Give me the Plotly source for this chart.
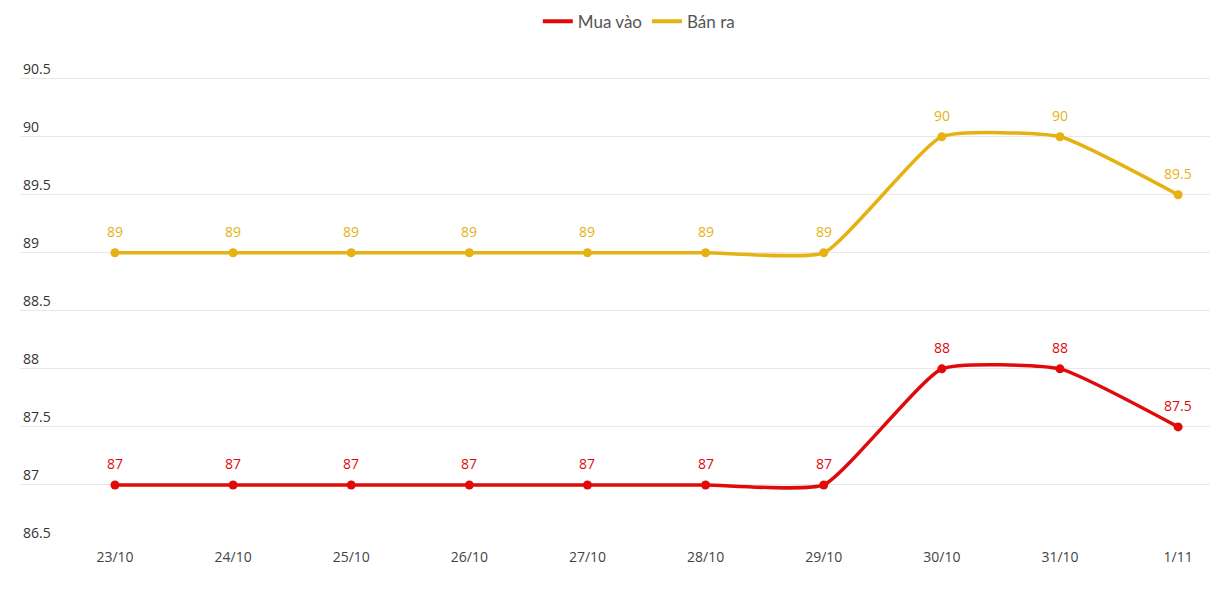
import plotly.graph_objects as go

dates = ["23/10", "24/10", "25/10", "26/10", "27/10", "28/10", "29/10", "30/10", "31/10", "1/11"]
mua_vao = [87, 87, 87, 87, 87, 87, 87, 88, 88, 87.5]
ban_ra = [89, 89, 89, 89, 89, 89, 89, 90, 90, 89.5]
y_ticks = [86.5, 87, 87.5, 88, 88.5, 89, 89.5, 90, 90.5]

RED = "#e10a0a"
GOLD = "#e6b213"
series = [("Mua vào", mua_vao, RED), ("Bán ra", ban_ra, GOLD)]

fig = go.Figure()
for name, vals, col in series:
    fig.add_trace(go.Scatter(
        x=dates, y=vals, name=name, showlegend=False,
        mode="lines+markers",
        line=dict(color=col, width=3.5, shape="spline", smoothing=0.45),
        marker=dict(color=col, size=9),
        cliponaxis=False,
    ))
for name, vals, col in series:
    fig.add_trace(go.Scatter(
        x=[None], y=[None], name=name, mode="lines",
        line=dict(color=col, width=4),
    ))
for name, vals, col in series:
    for d, v in zip(dates, vals):
        fig.add_annotation(x=d, y=v, text=f"{v:g}", showarrow=False,
                           yshift=21, font=dict(family="Open Sans", size=14, color=col))

fig.update_layout(
    width=1220, height=605,
    margin=dict(l=20, r=10, t=48, b=62),
    paper_bgcolor="white", plot_bgcolor="white",
    font=dict(family="Open Sans", size=14, color="#333"),
    showlegend=True,
    legend=dict(orientation="h", x=0.52, xanchor="center", y=0.994, yanchor="top",
                yref="container", font=dict(family="Lato", size=17, color="#555"),
                itemwidth=30, traceorder="normal"),
    xaxis=dict(type="category", range=[-0.804, 9.27], showgrid=False, zeroline=False,
               showline=False, ticks="", ticklabelstandoff=4,
               tickfont=dict(size=14, color="#444")),
    yaxis=dict(range=[86.5, 90.75], tickvals=y_ticks, ticktext=[f"{v:g}" for v in y_ticks],
               ticklabelposition="inside top", showgrid=True, gridcolor="#e8e8e8",
               gridwidth=1, zeroline=False, showline=False, ticks="",
               tickfont=dict(size=14, color="#333")),
)
fig.write_html("out.html")
